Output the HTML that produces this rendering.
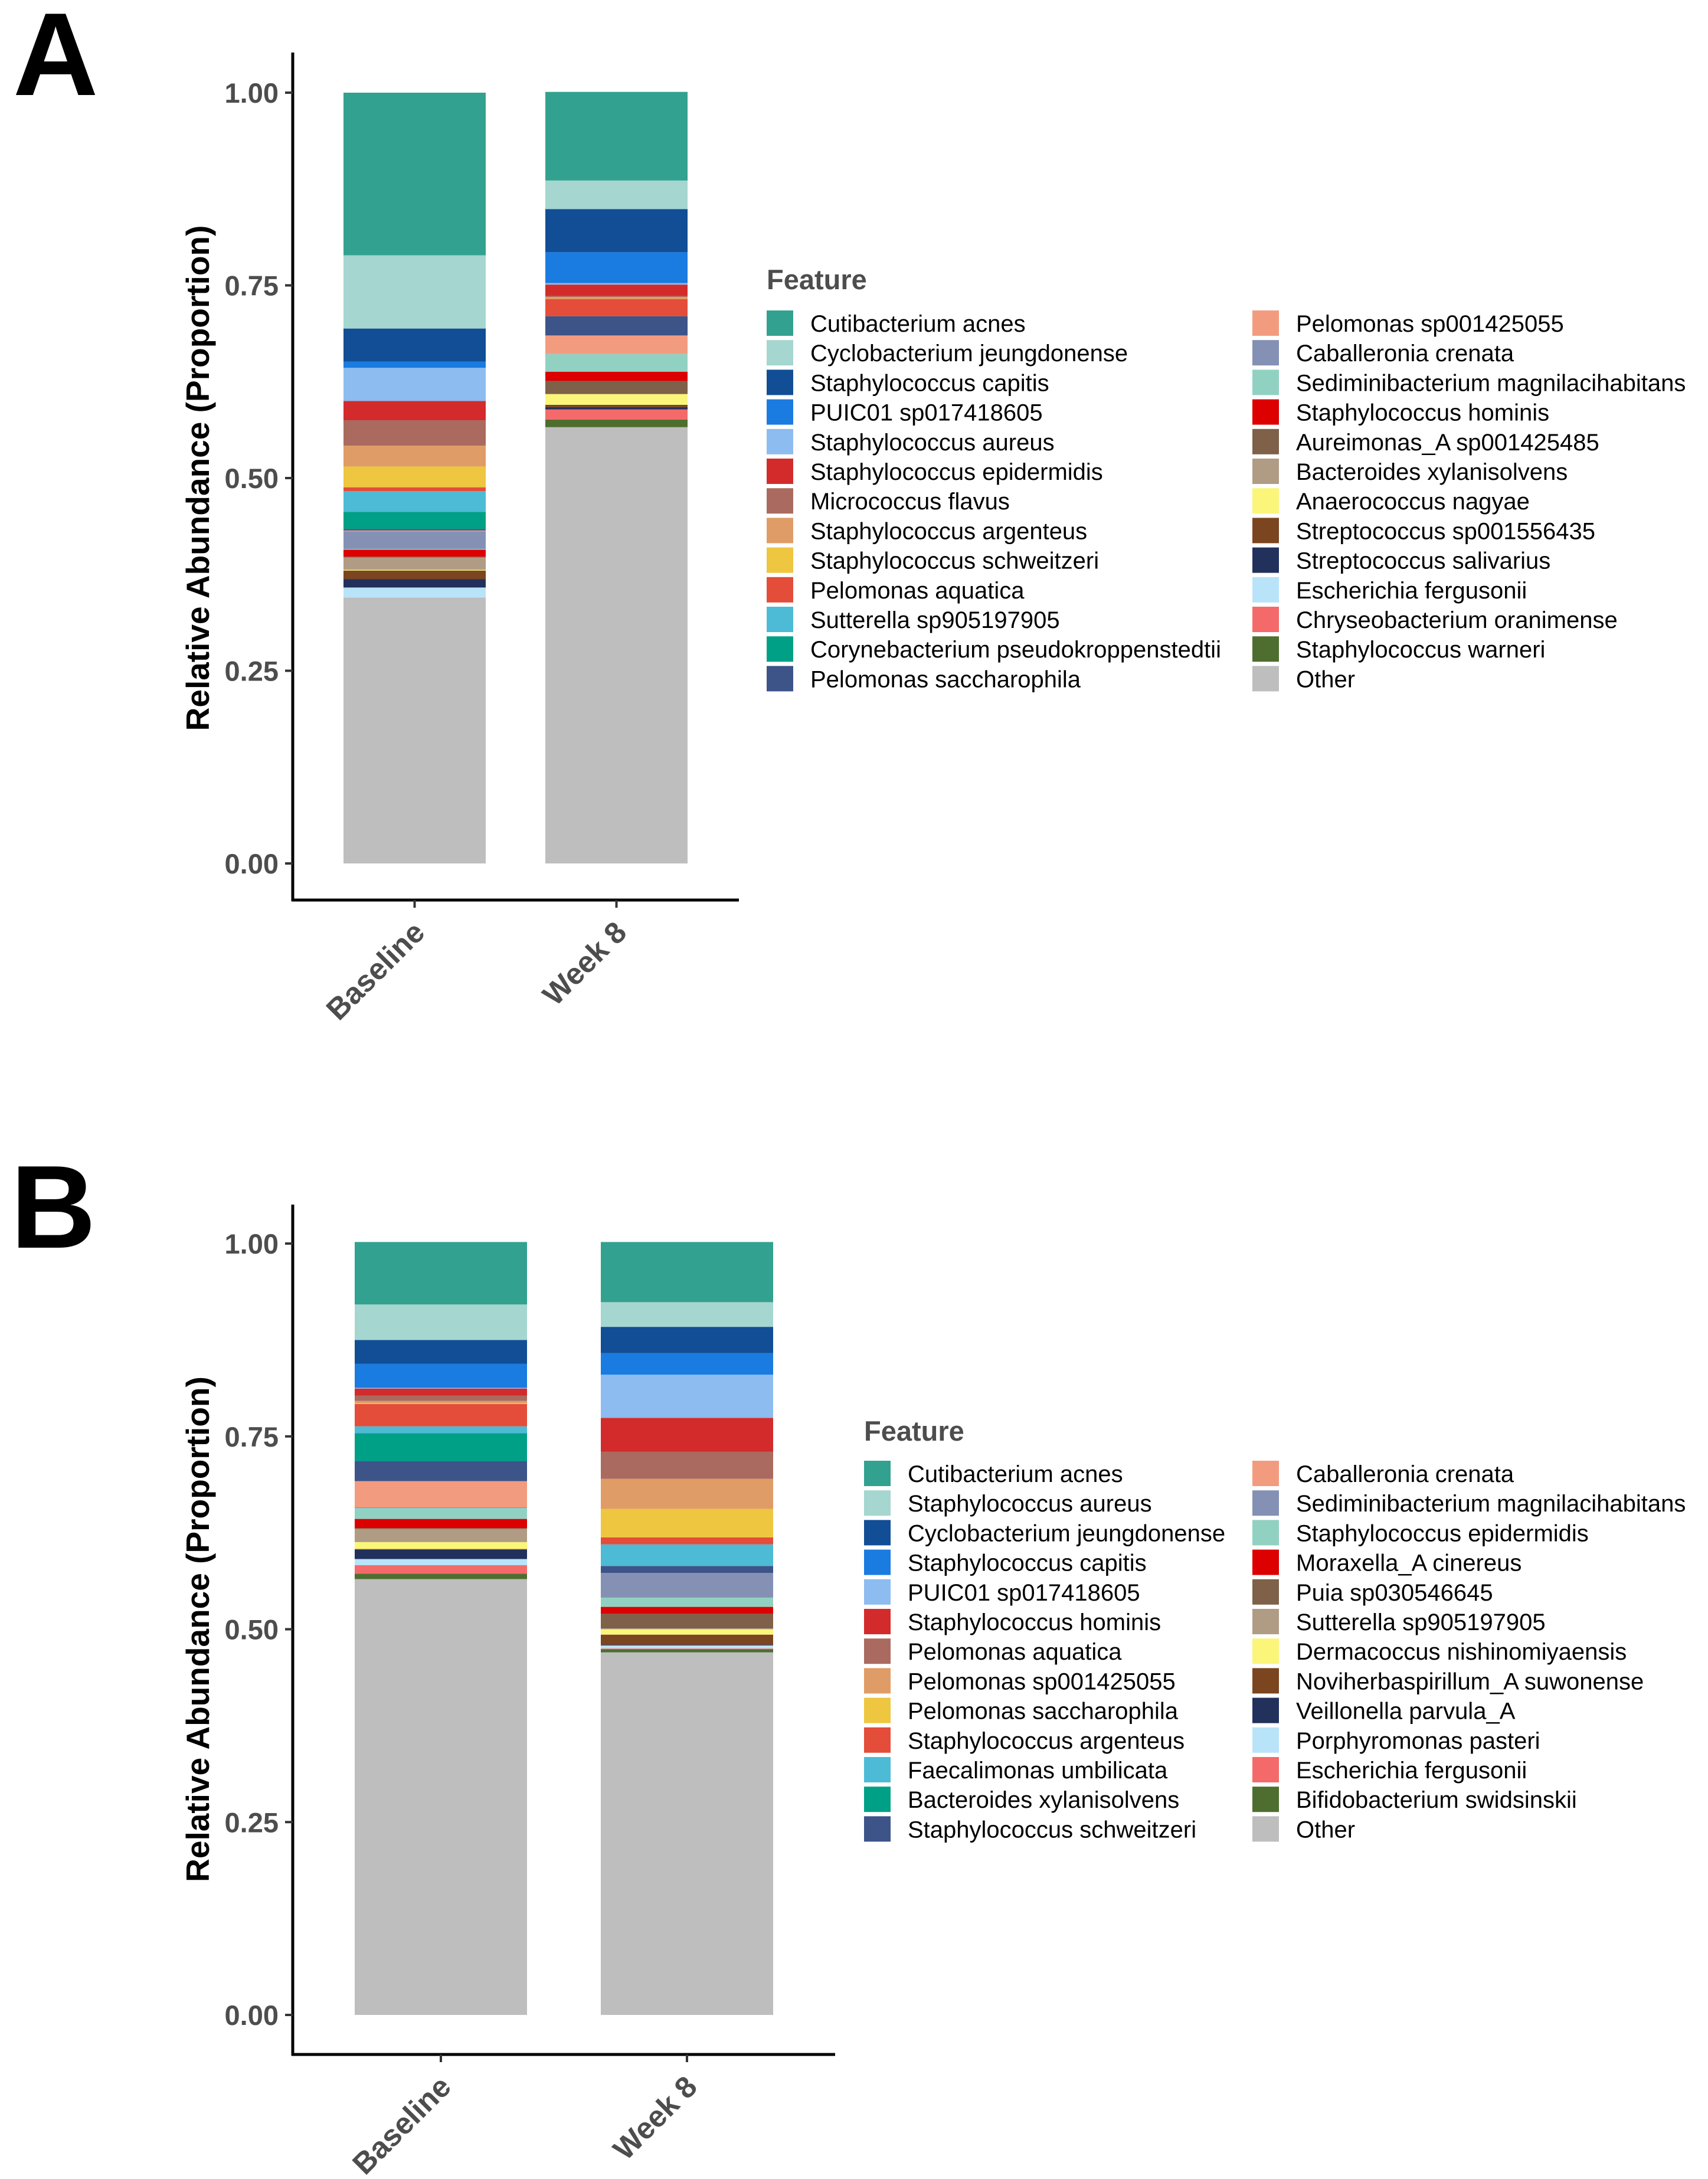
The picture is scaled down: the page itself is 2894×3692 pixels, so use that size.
<!DOCTYPE html>
<html><head><meta charset="utf-8"><style>
html,body{margin:0;padding:0;background:#fff;}
svg{display:block;font-family:"Liberation Sans",Arial,sans-serif;}
</style></head><body>
<svg id="fig" width="2894" height="3692" viewBox="0 0 2894 3692" xmlns="http://www.w3.org/2000/svg">
<rect width="2894" height="3692" fill="#fff"/>
</svg>
<script>
// ---- data ----
const palette = ["#33A18F","#A5D6D0","#114E95","#1A7BE0","#8DBCF0","#D32B2B","#AA6A60","#E09C66","#EEC63F","#E34D39","#4DBBD5","#00A087","#3C5488","#F39B7F","#8491B4","#91D1C2","#DC0000","#7E6148","#B09C85","#FBF57A","#7B4520","#22305C","#B9E3F8","#F46A6A","#4E6E2F","#BEBEBE"];
const categories = ["Baseline","Week 8"];
const yTicks = [0,0.25,0.5,0.75,1.0];
const yTickLabels = ["0.00","0.25","0.50","0.75","1.00"];
const featuresA = ["Cutibacterium acnes","Cyclobacterium jeungdonense","Staphylococcus capitis","PUIC01 sp017418605","Staphylococcus aureus","Staphylococcus epidermidis","Micrococcus flavus","Staphylococcus argenteus","Staphylococcus schweitzeri","Pelomonas aquatica","Sutterella sp905197905","Corynebacterium pseudokroppenstedtii","Pelomonas saccharophila","Pelomonas sp001425055","Caballeronia crenata","Sediminibacterium magnilacihabitans","Staphylococcus hominis","Aureimonas_A sp001425485","Bacteroides xylanisolvens","Anaerococcus nagyae","Streptococcus sp001556435","Streptococcus salivarius","Escherichia fergusonii","Chryseobacterium oranimense","Staphylococcus warneri","Other"];
const baselineA = [0.211,0.095,0.043,0.008,0.043,0.025,0.033,0.027,0.027,0.005,0.027,0.022,0.002,0.001,0.023,0.001,0.009,0.001,0.016,0.001,0.011,0.011,0.013,0.000,0.000,0.345];
const week8A = [0.115,0.037,0.056,0.040,0.002,0.015,0.001,0.003,0.000,0.022,0.000,0.000,0.025,0.024,0.000,0.023,0.012,0.017,0.000,0.014,0.003,0.003,0.000,0.013,0.010,0.566];
const featuresB = ["Cutibacterium acnes","Staphylococcus aureus","Cyclobacterium jeungdonense","Staphylococcus capitis","PUIC01 sp017418605","Staphylococcus hominis","Pelomonas aquatica","Pelomonas sp001425055","Pelomonas saccharophila","Staphylococcus argenteus","Faecalimonas umbilicata","Bacteroides xylanisolvens","Staphylococcus schweitzeri","Caballeronia crenata","Sediminibacterium magnilacihabitans","Staphylococcus epidermidis","Moraxella_A cinereus","Puia sp030546645","Sutterella sp905197905","Dermacoccus nishinomiyaensis","Noviherbaspirillum_A suwonense","Veillonella parvula_A","Porphyromonas pasteri","Escherichia fergusonii","Bifidobacterium swidsinskii","Other"];
const baselineB = [0.081,0.046,0.031,0.031,0.001,0.009,0.007,0.003,0.001,0.029,0.009,0.036,0.026,0.034,0.001,0.014,0.012,0.001,0.017,0.009,0.001,0.012,0.008,0.011,0.007,0.565];
const week8B = [0.078,0.032,0.034,0.028,0.056,0.044,0.035,0.039,0.037,0.009,0.028,0.000,0.009,0.000,0.032,0.012,0.009,0.019,0.001,0.007,0.013,0.001,0.004,0.001,0.004,0.470];

const NS="http://www.w3.org/2000/svg";
const svg=document.getElementById('fig');
function mk(tag,attrs,parent){const e=document.createElementNS(NS,tag);for(const k in attrs)e.setAttribute(k,attrs[k]);(parent||svg).appendChild(e);return e;}

function panel(cfg){
  const g=mk('g',{});
  
  
  const y=v=>cfg.y0-(cfg.y0-cfg.y1)*v;
  const L=mk('text',{x:cfg.letterX,y:cfg.letterY,'font-size':200,'font-weight':'bold',fill:'#000'},g);
  L.textContent=cfg.id;
  
  
  const series=[cfg.base,cfg.wk];
  series.forEach((vals,ci)=>{
    const bg=mk('g',{},g);
    
    
    let cum=0;
    for(let i=vals.length-1;i>=0;i--){
      const v=vals[i]; if(v<=0){continue;}
      const top=y(cum+v), bot=y(cum);
      const r=mk('rect',{x:cfg.barX[ci],y:top,width:cfg.barW,height:bot-top,fill:palette[i]},bg);
      
      
      cum+=v;
    }
  });
  const ya=mk('line',{x1:cfg.axX,y1:cfg.axTop,x2:cfg.axX,y2:cfg.axBot+2,stroke:'#000','stroke-width':5},g);
  
  
  const xa=mk('line',{x1:cfg.axX-2,y1:cfg.axBot,x2:cfg.axRight,y2:cfg.axBot,stroke:'#000','stroke-width':5},g);
  
  
  yTicks.forEach((t,i)=>{
    mk('line',{x1:cfg.axX-13,y1:y(t),x2:cfg.axX,y2:y(t),stroke:'#333','stroke-width':4},g);
    const tl=mk('text',{x:cfg.axX-24,y:y(t)+17,'font-size':47,'font-weight':'bold',fill:'#4D4D4D','text-anchor':'end'},g);
    tl.textContent=yTickLabels[i];
    
    
  });
  categories.forEach((c,ci)=>{
    const cx=cfg.barX[ci]+cfg.barW/2;
    mk('line',{x1:cx,y1:cfg.axBot,x2:cx,y2:cfg.axBot+13,stroke:'#333','stroke-width':4},g);
    const tx=cx+20, ty=cfg.axBot+58;
    const tl=mk('text',{x:tx,y:ty,'font-size':51,'font-weight':'bold',fill:'#4D4D4D','text-anchor':'end',transform:`rotate(-45 ${tx} ${ty})`},g);
    tl.textContent=c;
    
    
  });
  const cy=(cfg.y0+cfg.y1)/2;
  const yt=mk('text',{x:354,y:cy,'font-size':55,'font-weight':'bold',fill:'#000','text-anchor':'middle',transform:`rotate(-90 354 ${cy})`},g);
  yt.textContent='Relative Abundance (Proportion)';
  
  
  const lg=mk('g',{},g);
  
  
  const tt=mk('text',{x:cfg.legX,y:cfg.legTitleY,'font-size':47,'font-weight':'bold',fill:'#4D4D4D'},lg);
  tt.textContent='Feature';
  
  
  cfg.features.forEach((f,i)=>{
    const col=i<13?0:1, row=i%13;
    const kx=col?2122:cfg.legX, ky=cfg.legKeyY+row*50.2;
    const eg=mk('g',{},lg);
    
    
    mk('rect',{x:kx,y:ky,width:45,height:43,fill:palette[i]},eg);
    const t=mk('text',{x:kx+74,y:ky+36,'font-size':40,fill:'#000'},eg);
    t.textContent=f;
  });
}
panel({id:'A',letterX:22,letterY:161,y1:157,y0:1463,barX:[582,924],barW:241,axX:496,axTop:89,axBot:1525,axRight:1252,
  base:baselineA,wk:week8A,features:featuresA,legX:1299,legTitleY:490,legKeyY:526});
panel({id:'B',letterX:18,letterY:2114,y1:2107,y0:3414,barX:[601,1018],barW:292,axX:496,axTop:2041,axBot:3481,axRight:1415,
  base:baselineB,wk:week8B,features:featuresB,legX:1464,legTitleY:2441,legKeyY:2475});
</script>
</body></html>
